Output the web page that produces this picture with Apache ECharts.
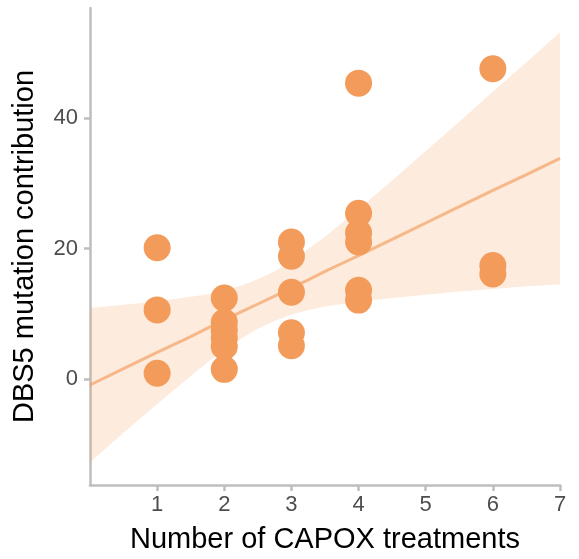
<!DOCTYPE html>
<html>
<head>
<meta charset="utf-8">
<script src="https://cdn.jsdelivr.net/npm/echarts@6/dist/echarts.min.js"></script>
<style>
  html, body { margin: 0; padding: 0; background: #ffffff; }
  #chart { width: 579px; height: 559px; }
</style>
</head>
<body>
<div id="chart"></div>
<script>
// Observed samples: number of CAPOX treatments vs DBS5 contribution
const treatments = [1, 1, 1, 2, 2, 2, 2, 2, 2, 3, 3, 3, 3, 3, 4, 4, 4, 4, 4, 4, 6, 6, 6];
const dbs5 = [20.1, 10.6, 0.9, 12.4, 8.7, 7.5, 6.3, 5.0, 1.5, 21.0, 18.8, 13.3, 7.1, 5.1,
              45.3, 25.4, 22.4, 21.0, 13.6, 12.1, 47.5, 17.4, 16.1];

// Linear fit and its confidence band
const fitX     = [0, 0.5, 1, 1.5, 1.75, 2, 2.25, 2.5, 2.75, 3, 3.25, 3.5, 3.75, 4, 4.5, 5, 5.5, 6, 6.5, 7];
const fitY     = [-0.9, 1.6, 4.1, 6.5, 7.8, 9.0, 10.3, 11.5, 12.7, 14.0, 15.2, 16.5, 17.7, 18.9, 21.4, 23.9, 26.4, 28.9, 31.3, 33.8];
const bandLow  = [-12.7, -8.2, -3.8, 0.5, 2.6, 4.5, 6.2, 7.7, 8.9, 9.9, 10.6, 11.1, 11.5, 11.9, 12.4, 12.9, 13.4, 13.8, 14.2, 14.5];
const bandHigh = [10.9, 11.4, 11.9, 12.6, 13.0, 13.6, 14.3, 15.3, 16.5, 18.1, 19.9, 21.8, 23.9, 26.0, 30.4, 34.9, 39.4, 44.0, 48.5, 53.1];

const xTicks = [1, 2, 3, 4, 5, 6, 7];
const yTicks = [0, 20, 40];

const pointColor = '#F39B5B';
const axisGray = '#bebebe';
const font = 'Liberation Sans, Arial, sans-serif';

const chart = echarts.init(document.getElementById('chart'), null, { renderer: 'canvas' });

const bandPolygon = fitX.map((x, i) => [x, bandHigh[i]])
  .concat(fitX.map((x, i) => [x, bandLow[i]]).reverse());

chart.setOption({
  animation: false,
  backgroundColor: '#ffffff',
  grid: { left: 90, right: 19, top: 8, bottom: 74, containLabel: false },
  xAxis: {
    type: 'value',
    min: 0,
    max: 7,
    name: 'Number of CAPOX treatments',
    nameLocation: 'middle',
    nameGap: 40,
    nameTextStyle: { color: '#000', fontSize: 29, fontFamily: font },
    axisLine: { onZero: false, lineStyle: { color: axisGray, width: 2.5 } },
    axisTick: { show: true, customValues: xTicks, length: 6, lineStyle: { color: axisGray, width: 2.5 } },
    axisLabel: { customValues: xTicks, color: '#4d4d4d', fontSize: 22, margin: 9, fontFamily: font },
    splitLine: { show: false }
  },
  yAxis: {
    type: 'value',
    min: -16.2,
    max: 56.8,
    name: 'DBS5 mutation contribution',
    nameLocation: 'middle',
    nameGap: 51,
    nameTextStyle: { color: '#000', fontSize: 29, fontFamily: font },
    axisLine: { onZero: false, lineStyle: { color: axisGray, width: 2.5 } },
    axisTick: { show: true, customValues: yTicks, length: 6, lineStyle: { color: axisGray, width: 2.5 } },
    axisLabel: { customValues: yTicks, color: '#4d4d4d', fontSize: 22, margin: 12, fontFamily: font },
    splitLine: { show: false }
  },
  series: [
    {
      type: 'custom',
      name: 'band',
      z: 1,
      silent: true,
      data: [0],
      renderItem: function (params, api) {
        const pts = bandPolygon.map(p => api.coord(p));
        return {
          type: 'polygon',
          shape: { points: pts },
          style: { fill: 'rgba(243,155,91,0.2)', stroke: null }
        };
      }
    },
    {
      type: 'line',
      name: 'fit',
      z: 2,
      silent: true,
      symbol: 'none',
      data: fitX.map((x, i) => [x, fitY[i]]),
      lineStyle: { color: 'rgba(243,155,91,0.65)', width: 3 }
    },
    {
      type: 'scatter',
      name: 'samples',
      z: 3,
      symbol: 'circle',
      symbolSize: 27,
      data: treatments.map((x, i) => [x, dbs5[i]]),
      itemStyle: { color: pointColor, opacity: 1 }
    }
  ]
});
</script>
</body>
</html>
